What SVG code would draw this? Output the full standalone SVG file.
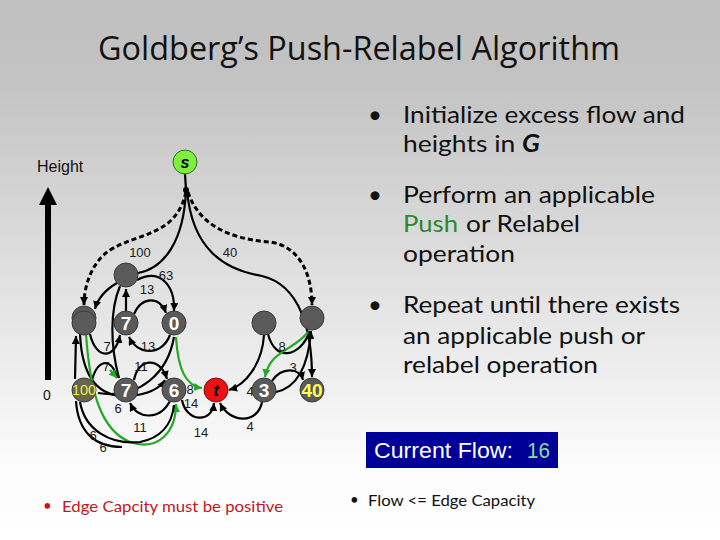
<svg xmlns="http://www.w3.org/2000/svg" width="720" height="540" viewBox="0 0 720 540">
<defs>
<linearGradient id="bg" x1="0" y1="0" x2="0" y2="540" gradientUnits="userSpaceOnUse">
<stop offset="0" stop-color="#c0c0c0"/>
<stop offset="0.15" stop-color="#c3c3c3"/>
<stop offset="0.85" stop-color="#fbfbfb"/>
<stop offset="1" stop-color="#ffffff"/>
</linearGradient>
<marker id="ab" viewBox="0 0 8 8" refX="8" refY="4" markerWidth="8" markerHeight="8" markerUnits="userSpaceOnUse" orient="auto"><path d="M0,0 L8,4 L0,8 z" fill="#000"/></marker>
<marker id="ag" viewBox="0 0 8 8" refX="8" refY="4" markerWidth="8" markerHeight="8" markerUnits="userSpaceOnUse" orient="auto"><path d="M0,0 L8,4 L0,8 z" fill="#22aa22"/></marker>
</defs>
<style>
.e{fill:none;stroke:#000;stroke-width:2.2}
.g{fill:none;stroke:#22aa22;stroke-width:2.2}
.d{fill:none;stroke:#000;stroke-width:3;stroke-dasharray:5 3}
.n{fill:#5a5a5a;stroke:#3a3a3a;stroke-width:1}
.nl{font-family:"Liberation Sans",Arial,sans-serif;font-weight:bold;font-size:19px;fill:#fff;text-anchor:middle}
.el{font-family:"Liberation Sans",Arial,sans-serif;font-size:13px;fill:#1a1a1a;text-anchor:middle}
.b{font-family:Lato,"Open Sans","Liberation Sans",sans-serif;font-size:24px;fill:#111}
.bot{font-family:Lato,"Open Sans","Liberation Sans",sans-serif;font-size:15px}
</style>
<rect x="0" y="0" width="720" height="540" fill="url(#bg)"/>

<text x="98" y="60" font-family="'Open Sans','Liberation Sans',sans-serif" font-size="32" fill="#111" textLength="522" lengthAdjust="spacingAndGlyphs">Goldberg’s Push-Relabel Algorithm</text>

<g id="bullets">
<text x="368" y="123" class="b">•</text>
<text x="403" y="123" class="b" textLength="282" lengthAdjust="spacingAndGlyphs">Initialize excess flow and</text>
<text x="403" y="152" class="b" textLength="137" lengthAdjust="spacingAndGlyphs">heights in <tspan font-weight="bold" font-style="italic">G</tspan></text>
<text x="368" y="203" class="b">•</text>
<text x="403" y="203" class="b" textLength="252" lengthAdjust="spacingAndGlyphs">Perform an applicable</text>
<text x="403" y="232" class="b" style="fill:#2a8a2a" textLength="55" lengthAdjust="spacingAndGlyphs">Push</text>
<text x="466" y="232" class="b" textLength="114" lengthAdjust="spacingAndGlyphs">or Relabel</text>
<text x="403" y="262" class="b" textLength="112" lengthAdjust="spacingAndGlyphs">operation</text>
<text x="368" y="313" class="b">•</text>
<text x="403" y="313" class="b" textLength="277" lengthAdjust="spacingAndGlyphs">Repeat until there exists</text>
<text x="403" y="344" class="b" textLength="242" lengthAdjust="spacingAndGlyphs">an applicable push or</text>
<text x="403" y="373" class="b" textLength="195" lengthAdjust="spacingAndGlyphs">relabel operation</text>
</g>

<g id="flowbox">
<rect x="366" y="432" width="192" height="36" fill="#000099"/>
<text x="374" y="458" font-family="'Liberation Sans',Arial,sans-serif" font-size="22" fill="#fff" textLength="139" lengthAdjust="spacingAndGlyphs">Current Flow:</text>
<text x="527" y="458" font-family="'Liberation Sans',Arial,sans-serif" font-size="22" fill="#88dd99" textLength="23" lengthAdjust="spacingAndGlyphs">16</text>
</g>

<g id="notes">
<text x="43" y="511" class="bot" fill="#c4161c">•</text>
<text x="62" y="512" class="bot" fill="#c4161c" textLength="221" lengthAdjust="spacingAndGlyphs">Edge Capcity must be positive</text>
<text x="350" y="505" class="bot" fill="#111">•</text>
<text x="368" y="506" class="bot" fill="#111" textLength="167" lengthAdjust="spacingAndGlyphs">Flow &lt;= Edge Capacity</text>
</g>

<g id="height-axis">
<text x="37" y="172" font-family="'Liberation Sans',Arial,sans-serif" font-size="16" fill="#111">Height</text>
<rect x="45" y="203" width="6" height="177" fill="#000"/>
<path d="M48,187 L57,205 L39,205 z" fill="#000"/>
<text x="47" y="400" font-family="'Liberation Sans',Arial,sans-serif" font-size="14" fill="#111" text-anchor="middle">0</text>
</g>

<g id="connectors">
<path class="e" d="M185,174 L186,190" stroke-width="3"/>
<circle cx="186" cy="190" r="3" fill="#000"/>
<path class="e" d="M186,190 C184,240 165,268 138,273"/>
<path class="d" d="M186,192 C176,236 140,232 110,250 C92,262 84,285 84,305" marker-end="url(#ab)"/>
<path class="e" d="M187,190 C192,250 225,270 262,276 C300,285 312,330 312,377" marker-end="url(#ab)"/>
<path class="d" stroke-width="2.5" d="M188,192 C200,230 240,240 270,242 C300,246 312,275 312,305" marker-end="url(#ab)"/>

<path class="e" d="M117,283 C105,290 98,298 95,309" marker-end="url(#ab)"/>
<path class="e" d="M126,311 L126,289" marker-end="url(#ab)"/>
<path class="e" d="M137,280 C160,268 175,285 174,311" marker-end="url(#ab)"/>
<path class="e" d="M120,286 C110,310 110,345 119,378"/>
<path class="e" d="M134,314 C142,296 160,296 166,313" marker-end="url(#ab)"/>
<path class="e" d="M170,335 C162,356 138,356 129,337" marker-end="url(#ab)"/>
<path class="e" d="M90,334 C96,360 115,360 120,335" marker-end="url(#ab)"/>
<path class="e" d="M92,380 C98,358 112,358 117,378"/>
<path class="g" d="M110,370 L117,378" marker-end="url(#ag)"/>
<path class="e" d="M134,380 C138,358 160,356 167,379" marker-end="url(#ab)"/>
<path class="e" d="M170,401 C160,420 138,420 130,403" marker-end="url(#ab)"/>
<path class="e" d="M80,334 C82,380 100,398 130,396 C150,394 160,388 165,380" marker-end="url(#ab)"/>
<path class="e" d="M174,337 C168,372 140,400 98,393"/>
<path class="e" d="M75,379 L76,336" marker-end="url(#ab)"/>
<path class="g" d="M86,334 C90,390 100,430 130,442 C160,452 176,430 176,404" marker-end="url(#ag)"/>
<path class="e" d="M80,402 C85,430 110,445 140,442 C160,438 172,425 174,405"/>
<path class="e" d="M76,401 C78,432 95,447 122,447"/>

<path class="g" d="M176,337 C178,370 186,386 202,388" marker-end="url(#ag)"/>
<path class="e" d="M182,400 C186,422 212,424 214,403" marker-end="url(#ab)"/>
<path class="e" d="M262,402 C258,424 230,424 220,403" marker-end="url(#ab)"/>
<path class="e" d="M264,335 C262,365 245,385 229,390" marker-end="url(#ab)"/>
<path class="e" d="M268,334 C275,362 300,358 310,331"/>
<path class="g" d="M308,332 C295,350 270,350 265,377" marker-end="url(#ag)"/>
<path class="e" d="M276,392 C295,388 308,370 311,331" marker-end="url(#ab)"/>
<path class="e" d="M272,381 C282,366 300,368 303,380" marker-end="url(#ab)"/>

<text class="el" x="140" y="257">100</text>
<text class="el" x="230" y="257">40</text>
<text class="el" x="166" y="280">63</text>
<text class="el" x="147" y="294">13</text>
<text class="el" x="107" y="351">7</text>
<text class="el" x="148" y="351">13</text>
<text class="el" x="106" y="371">7</text>
<text class="el" x="141" y="371">11</text>
<text class="el" x="118" y="413">6</text>
<text class="el" x="140" y="432">11</text>
<text class="el" x="93" y="440">6</text>
<text class="el" x="103" y="452">6</text>
<text class="el" x="190" y="394" font-size="12">8</text>
<text class="el" x="191" y="408" font-size="12">14</text>
<text class="el" x="201" y="437">14</text>
<text class="el" x="250" y="396">4</text>
<text class="el" x="250" y="431">4</text>
<text class="el" x="282" y="351">8</text>
<text class="el" x="293" y="372">3</text>
</g>

<g id="node-s"><circle cx="185" cy="162" r="12" fill="#7cf03c" stroke="#3a6a2a"/><text x="185" y="168" font-family="'Liberation Sans',Arial,sans-serif" font-weight="bold" font-style="italic" font-size="16" fill="#000" text-anchor="middle">s</text></g>
<g id="node-a"><circle class="n" cx="126" cy="275" r="12"/></g>
<g id="node-b"><circle class="n" cx="84" cy="318" r="12"/><circle class="n" cx="84" cy="323" r="12"/></g>
<g id="node-c"><circle class="n" cx="126" cy="323" r="12"/><text class="nl" x="126" y="330">7</text></g>
<g id="node-d"><circle class="n" cx="174" cy="323" r="12"/><text class="nl" x="174" y="330">0</text></g>
<g id="node-e"><circle class="n" cx="264" cy="323" r="12"/></g>
<g id="node-f"><circle class="n" cx="312" cy="318" r="12"/></g>
<g id="node-g"><circle cx="84" cy="390" r="12" fill="#66664f" stroke="#3a3a3a"/><text x="84" y="395" font-family="'Liberation Sans',Arial,sans-serif" font-size="14" fill="#eeee55" text-anchor="middle" textLength="24" lengthAdjust="spacingAndGlyphs">100</text></g>
<g id="node-h"><circle class="n" cx="126" cy="390" r="12"/><text class="nl" x="126" y="397">7</text></g>
<g id="node-i"><circle class="n" cx="174" cy="390" r="12"/><text class="nl" x="174" y="397">6</text></g>
<g id="node-t"><circle cx="216" cy="390" r="12" fill="#ee1111" stroke="#7a1010"/><text x="216" y="396" font-family="'Liberation Sans',Arial,sans-serif" font-weight="bold" font-style="italic" font-size="17" fill="#000" text-anchor="middle">t</text></g>
<g id="node-j"><circle class="n" cx="264" cy="390" r="12"/><text class="nl" x="264" y="397">3</text></g>
<g id="node-k"><circle class="n" cx="312" cy="390" r="12"/><text class="nl" x="312" y="397" style="fill:#ffff55">40</text></g>
</svg>
